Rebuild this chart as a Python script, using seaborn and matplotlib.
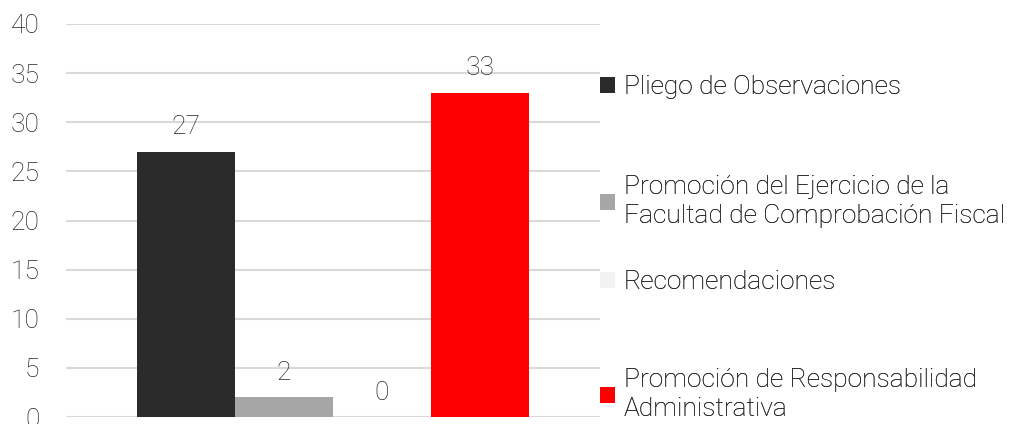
import matplotlib
matplotlib.use("Agg")
import matplotlib.pyplot as plt
import seaborn as sns
import pandas as pd

categories = [
    "Pliego de Observaciones",
    "Promoción del Ejercicio de la\nFacultad de Comprobación Fiscal",
    "Recomendaciones",
    "Promoción de Responsabilidad\nAdministrativa",
]
values = [27, 2, 0, 33]
colors = ["#2b2b2b", "#a6a6a6", "#f2f2f2", "#ff0000"]
yticks = [0, 5, 10, 15, 20, 25, 30, 35, 40]

sns.set_theme(style="white")
plt.rcParams["font.family"] = ["Roboto", "DejaVu Sans"]
plt.rcParams["font.weight"] = "light"
text_color = "#262626"
fs = 19

df = pd.DataFrame({"grupo": [""] * len(values), "valor": values, "categoria": categories})

fig = plt.figure(figsize=(10.18, 4.24), dpi=100)
ax = fig.add_axes([0.0648, 0.0165, 0.5242, 0.9269])

sns.barplot(data=df, x="grupo", y="valor", hue="categoria", hue_order=categories,
            palette=colors, width=0.734, saturation=1, ax=ax, legend=False,
            linewidth=0, edgecolor="none")

ax.set_ylim(0, 40)
ax.set_yticks(yticks)
ax.set_xlabel("")
ax.set_ylabel("")
ax.set_xticks([])
for s in ax.spines.values():
    s.set_visible(False)
ax.yaxis.grid(True, color="#d9d9d9", linewidth=1.5)
ax.set_axisbelow(True)
ax.tick_params(axis="y", length=0, pad=19, labelsize=fs, labelcolor=text_color)
for lbl in ax.get_yticklabels():
    lbl.set_fontweight("light")

for cont in ax.containers:
    ax.bar_label(cont, fmt="%g", padding=9, fontsize=fs, color=text_color,
                 fontweight="light")

# Legend entries placed like the original
handles = [c[0] for c in ax.containers]
ycenters = [87, 201.5, 282, 394.5]
for h, lab, yc in zip(handles, categories, ycenters):
    leg = fig.legend([h], [lab], loc="center left",
                     bbox_to_anchor=(600 / 1018, 1 - yc / 424),
                     frameon=False, handlelength=0.55,
                     handleheight=0.55, handletextpad=0.35, borderpad=0,
                     borderaxespad=0, labelcolor=text_color,
                     prop={"size": fs, "weight": "light"})
    for t in leg.get_texts():
        t.set_linespacing(1.3)
    fig.add_artist(leg)

fig.savefig("out.png", dpi=100)
